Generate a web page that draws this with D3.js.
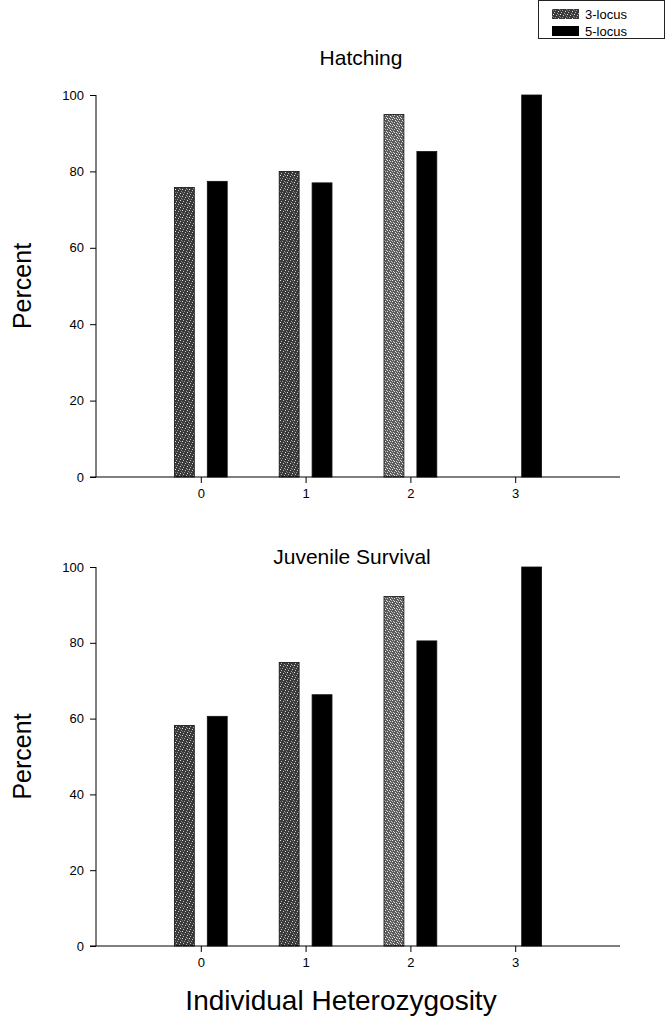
<!DOCTYPE html>
<html><head><meta charset="utf-8">
<script src="https://cdn.jsdelivr.net/npm/d3@7"></script>
<style>
body{margin:0;background:#fff;}
svg{display:block;font-family:"Liberation Sans",Arial,sans-serif;}
</style></head>
<body><svg id="c" width="666" height="1023"></svg>
<script>
const categories = [0, 1, 2, 3];
const seriesNames = ["3-locus", "5-locus"];
const hatching3 = [75.8, 80.0, 94.9, null];
const hatching5 = [77.4, 77.0, 85.2, 100];
const juvenile3 = [58.2, 74.8, 92.2, null];
const juvenile5 = [60.6, 66.3, 80.5, 100];
const yTickValues = [0, 20, 40, 60, 80, 100];
const panelTitles = ["Hatching", "Juvenile Survival"];
const yLabel = "Percent";
const xLabel = "Individual Heterozygosity";

const svg = d3.select("#c");
const defs = svg.append("defs");
function makePattern(id, base, dots) {
  const p = defs.append("pattern").attr("id", id).attr("patternUnits","userSpaceOnUse")
    .attr("width",7).attr("height",7);
  p.append("rect").attr("width",7).attr("height",7).attr("fill",base);
  dots.forEach(([x,y,c]) => p.append("rect").attr("x",x).attr("y",y)
    .attr("width",1).attr("height",1).attr("fill",c));
}
makePattern("stip", "#3a3a3a", [[0,0,"#e6e6e6"],[3,1,"#c8c8c8"],[5,4,"#dcdcdc"],[1,5,"#bdbdbd"],
  [6,2,"#8c8c8c"],[2,3,"#9a9a9a"],[4,6,"#a8a8a8"],[0,3,"#777"],[5,0,"#888"]]);
makePattern("stipL", "#5c5c5c", [[0,0,"#f2f2f2"],[3,1,"#e6e6e6"],[5,4,"#f0f0f0"],[1,5,"#dedede"],
  [6,2,"#c8c8c8"],[2,3,"#d2d2d2"],[4,6,"#d8d8d8"],[0,3,"#bbb"],[5,0,"#c4c4c4"],[2,6,"#e0e0e0"],[4,2,"#ccc"],[6,5,"#bbb"]]);

const x = d3.scaleLinear().domain([-1, 4]).range([96, 620]);
const offset = 0.157, bw = 0.19;

const panels = [
  {title: panelTitles[0], s3: hatching3, s5: hatching5, y0: 477, y1: 95, titleX: 361, titleY: 65},
  {title: panelTitles[1], s3: juvenile3, s5: juvenile5, y0: 946, y1: 567, titleX: 352, titleY: 564}
];

panels.forEach(p => {
  const y = d3.scaleLinear().domain([0, 100]).range([p.y0, p.y1]);
  const g = svg.append("g");
  const bars = [];
  categories.forEach((c, i) => {
    if (p.s3[i] != null) bars.push({c, v: p.s3[i], s: 0});
    if (p.s5[i] != null) bars.push({c, v: p.s5[i], s: 1});
  });
  g.selectAll("rect.bar").data(bars).join("rect").attr("class","bar")
    .attr("x", d => x(d.c + (d.s === 0 ? -offset : offset) - bw/2))
    .attr("width", d => x(bw) - x(0))
    .attr("y", d => y(d.v))
    .attr("height", d => y(0) - y(d.v))
    .attr("fill", d => d.s === 1 ? "#000" : (d.c === 2 ? "url(#stipL)" : "url(#stip)"))
    .attr("stroke", "#111").attr("stroke-width", 0.8);
  const ya = g.append("g").attr("transform", `translate(${x(-1)},0)`)
    .call(d3.axisLeft(y).tickValues(yTickValues).tickSize(6).tickPadding(6).tickFormat(d3.format("d")));
  ya.select(".domain").attr("d", `M0,${y(100)}V${y(0)}`).attr("stroke","#000");
  ya.selectAll("text").attr("font-size", 13).attr("fill","#000").attr("font-family","Liberation Sans, Arial, sans-serif");
  const xa = g.append("g").attr("transform", `translate(0,${y(0)})`)
    .call(d3.axisBottom(x).tickValues(categories).tickSize(6).tickPadding(6).tickFormat(d3.format("d")));
  xa.select(".domain").attr("d", `M${x(-1)-6},0H${x(4)}`).attr("stroke","#000");
  xa.selectAll("text").attr("font-size", 13).attr("fill","#000").attr("font-family","Liberation Sans, Arial, sans-serif");
  g.append("text").attr("x", p.titleX).attr("y", p.titleY).attr("text-anchor","middle")
    .attr("font-size", 21).text(p.title);
  g.append("text").attr("transform", `translate(31,${(p.y0 + p.y1)/2}) rotate(-90)`)
    .attr("text-anchor","middle").attr("font-size", 25).text(yLabel);
});

svg.append("text").attr("x", 341).attr("y", 1010).attr("text-anchor","middle")
  .attr("font-size", 28).text(xLabel);

const lg = svg.append("g");
lg.append("rect").attr("x", 538.5).attr("y", 0.5).attr("width", 126).attr("height", 38)
  .attr("fill","#fff").attr("stroke","#222");
seriesNames.forEach((n, i) => {
  lg.append("rect").attr("x", 552).attr("y", 9 + i*17).attr("width", 27).attr("height", 10)
    .attr("fill", i === 1 ? "#000" : "url(#stip)");
  lg.append("text").attr("x", 585).attr("y", 18.5 + i*17).attr("font-size", 13).text(n);
});
</script></body></html>
